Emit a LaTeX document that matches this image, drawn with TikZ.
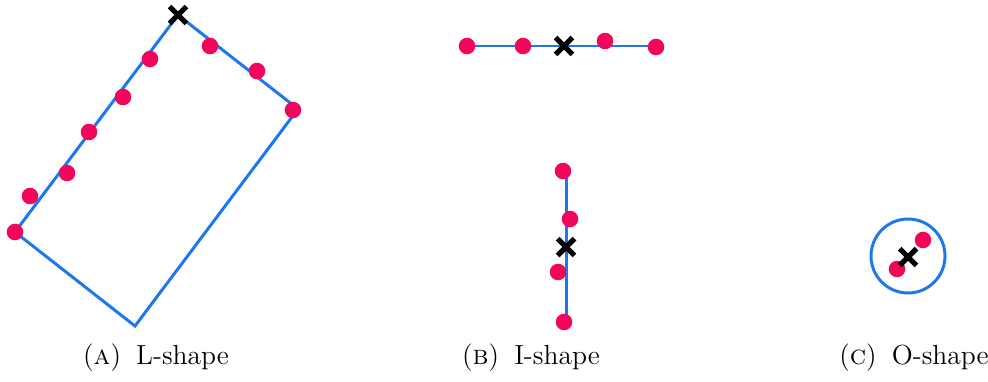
\documentclass[tikz,border=0pt]{standalone}
\usetikzlibrary{shapes.misc}
\definecolor{niebieski}{RGB}{30,120,235}
\definecolor{rozowy}{RGB}{242,6,92}
\begin{document}
\begin{tikzpicture}[x=0.0153cm, y=-0.0153cm,
  obrys/.style={draw=niebieski, line width=1.3pt},
  punkt/.style={circle, fill=rozowy, inner sep=0pt, minimum size=7.2pt},
  srodek/.style={cross out, draw=black, line width=2.3pt, inner sep=0pt, minimum size=5pt},
  podpis/.style={font=\large}]

\useasboundingbox (0,0) rectangle (988,381);

% Wierzchołki prostokąta (L)
\coordinate (L1) at (178,15);
\coordinate (L2) at (298,109);
\coordinate (L3) at (135,326);
\coordinate (L4) at (15,232);
\draw[obrys] (L1) -- (L2) -- (L3) -- (L4) -- cycle;

% Odcinki (I)
\coordinate (Ia) at (467,46);
\coordinate (Ib) at (657,46);
\coordinate (Ic) at (566,171);
\coordinate (Id) at (566,322);
\draw[obrys] (Ia) -- (Ib);
\draw[obrys] (Ic) -- (Id);

% Okrąg (O)
\coordinate (O) at (908,256);
\draw[obrys] (O) circle[radius=37];

% Punkty
\foreach \n/\x/\y in {
  l1/15/232, l2/30/196, l3/67/173, l4/89/132, l5/123/97,
  l6/150/59, l7/210/46, l8/257/71, l9/293/110,
  h1/467/46, h2/523/46, h3/605/41, h4/656/47,
  v1/563/171, v2/570/219, v3/558/272, v4/564/322,
  o1/923/240, o2/897/269} {
  \node[punkt] (\n) at (\x,\y) {};
}

% Środki
\foreach \n/\x/\y in {sL/178/15, sH/564/46, sV/566/247, sO/908/257} {
  \node[srodek] (\n) at (\x,\y) {};
}

% Podpisy
\node[podpis] (capA) at (156,358) {(\textsc{a})\hspace{0.55em}L-shape};
\node[podpis] (capB) at (531,358) {(\textsc{b})\hspace{0.55em}I-shape};
\node[podpis] (capC) at (914,358) {(\textsc{c})\hspace{0.55em}O-shape};

\end{tikzpicture}
\end{document}
